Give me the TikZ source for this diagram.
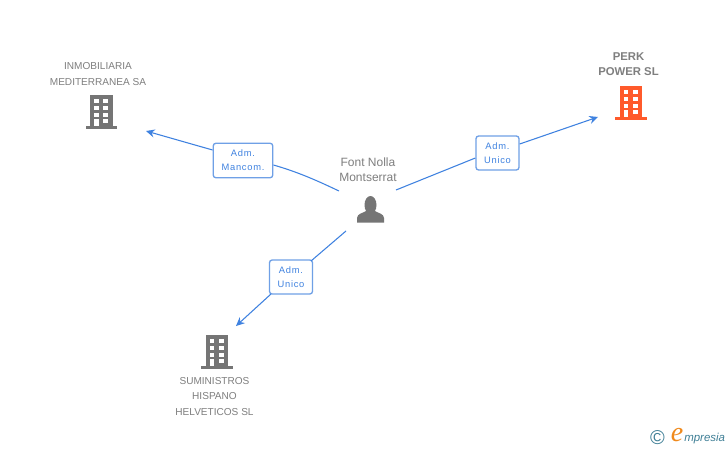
\documentclass[tikz,border=0pt]{standalone}
\usepackage{fontspec}
\setmainfont{Liberation Sans}
\newfontfamily\spacedfont[LetterSpace=8]{Liberation Sans}
\newfontfamily\logofont{Liberation Serif}
\definecolor{txtgrey}{HTML}{7F7F7F}
\definecolor{iconGrey}{HTML}{757575}
\definecolor{iconOrange}{HTML}{FF5A2B}
\definecolor{linkBlue}{HTML}{3F82E0}
\definecolor{boxBlue}{HTML}{6FA0E6}
\definecolor{logoTeal}{HTML}{3F7F96}
\definecolor{logoOrange}{HTML}{F08A1D}
\newcommand{\bldg}[3]{%
  \begin{scope}[shift={(#1,#2)}]
    \fill[#3] (4.5,0) rectangle (27,31);
    \fill[#3] (0,31) rectangle (31.5,33.5);
    \foreach \wy in {4.3,11,17.7,24.2}{
      \fill[white] (17.8,\wy) rectangle ++(5,4);
      \fill[white] (8.6,\wy) rectangle ++(4.6,4);
    }
    \fill[white] (8.6,24.2) rectangle (13.2,31);
  \end{scope}}
\tikzset{
  x=0.75pt,y=-0.75pt,
  lbl/.style={text=txtgrey,font=\fontsize{7.55}{11.3}\selectfont,align=center,inner sep=0pt},
  lblbold/.style={lbl,font=\fontsize{8.5}{11.3}\selectfont\bfseries},
  rolebox/.style={draw=boxBlue,line width=1pt,rounded corners=2pt,fill=white,text=linkBlue,
    font=\spacedfont\fontsize{7}{11.1}\selectfont,align=center,inner sep=0pt},
  link/.style={draw=linkBlue,line width=0.8pt},
  arrowlink/.style={link,-{Stealth[length=6.5pt,width=6pt]}},
}
\usetikzlibrary{arrows.meta}
\begin{document}
\begin{tikzpicture}
\useasboundingbox (0,0) rectangle (728,450);
\fill[white] (0,0) rectangle (728,450);
% icons
\bldg{85.5}{95}{iconGrey}
\bldg{615}{86}{iconOrange}
\bldg{201}{335}{iconGrey}
% person
\fill[iconGrey] (370.5,205) ellipse (6 and 9);
\fill[iconGrey] (357,222.7) -- (357,218) .. controls (357.5,213.5) and (362,213.5) .. (366,211)
  -- (375,211) .. controls (379,213.5) and (383.5,213.5) .. (384,218) -- (384,222.7) -- cycle;
% texts
\node[lbl] (inmo) at (98,74) {INMOBILIARIA\\MEDITERRANEA SA};
\node[lblbold,text=txtgrey] (perk) at (628.5,64.5) {PERK\\POWER SL};
\node[lbl] (sumi) at (214.5,396.5) {SUMINISTROS\\HISPANO\\HELVETICOS SL};
\node[lbl,font=\fontsize{9}{11.3}\selectfont] (font) at (368,170) {Font Nolla\\Montserrat};
% role boxes
\node[rolebox,minimum width=59.5pt*0.75,minimum height=34.5pt*0.75] (r1) at (243,160.5) {\raisebox{-0.5pt}{Adm.}\\Mancom.};
\node[rolebox,minimum width=43pt*0.75,minimum height=34pt*0.75] (r2) at (497.5,153) {\raisebox{-0.5pt}{Adm.}\\Unico};
\node[rolebox,minimum width=43pt*0.75,minimum height=34pt*0.75] (r3) at (291,277) {\raisebox{-0.5pt}{Adm.}\\Unico};
% free ends
\coordinate (s1) at (339,191);
\coordinate (s2) at (396,190);
\coordinate (s3) at (346,231);
\coordinate (t1) at (146,131);
\coordinate (t2) at (598,117);
\coordinate (t3) at (236,326);
% connectors
\draw[link] (s1) .. controls (318,181) and (298,172) .. (r1.east |- 0,165);
\draw[arrowlink] (r1.west |- 0,150) -- (t1);
\draw[link] (s2) -- (r2.west |- 0,158);
\draw[arrowlink] (r2.east |- 0,144) -- (t2);
\draw[link] (s3) -- (311,261);
\draw[arrowlink] (271,294) -- (t3);
% logo
\node[text=logoTeal,font=\fontsize{15}{15}\selectfont,inner sep=0pt] (copy) at (657.5,438) {\textcopyright};
\node[text=logoOrange,font=\logofont\itshape\fontsize{21}{21}\selectfont,inner sep=0pt] (loge) at (677,435.5) {e};
\node[text=logoTeal,font=\itshape\fontsize{8.6}{9}\selectfont,inner sep=0pt,anchor=west] (logt) at (684,439) {mpresia};
\end{tikzpicture}
\end{document}
